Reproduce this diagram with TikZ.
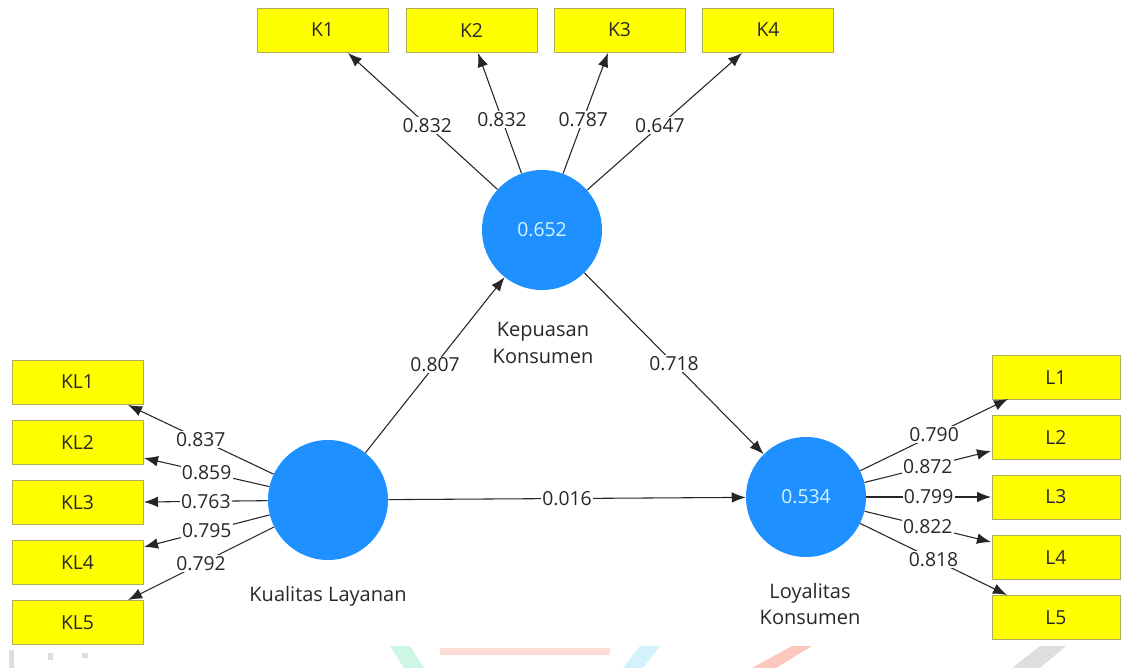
\documentclass[tikz,border=0pt]{standalone}
\usepackage{fontspec}
\setmainfont{Open Sans}
\usetikzlibrary{arrows.meta,calc}
\definecolor{lvblue}{RGB}{30,144,255}
\definecolor{boxyellow}{RGB}{255,255,0}
\definecolor{boxedge}{RGB}{175,175,90}
\definecolor{valtext}{RGB}{215,245,255}
\definecolor{txt}{RGB}{40,40,40}
\definecolor{wmgreen}{RGB}{205,246,228}
\definecolor{wmsalmon}{RGB}{252,222,214}
\definecolor{wmcyan}{RGB}{210,242,252}
\definecolor{wmred}{RGB}{250,200,190}
\definecolor{wmgrey}{RGB}{222,222,222}
\newcommand{\lblfont}{\fontsize{14.5}{17}\selectfont}
\newcommand{\namefont}{\fontsize{15}{20}\selectfont}
\begin{document}
\begin{tikzpicture}[x=0.75pt,y=-0.75pt,
  ind/.style={draw=boxedge,fill=boxyellow,line width=0.75pt,minimum width=98.25pt,minimum height=33pt,inner sep=0pt,font=\lblfont,text=txt},
  indr/.style={ind,minimum width=96pt},
  lv/.style={circle,fill=lvblue,minimum size=90pt,inner sep=0pt,font=\lblfont,text=valtext},
  conn/.style={draw=black!85,line width=0.8pt,-{Latex[length=10.5pt,width=8pt]}},
  lbl/.style={fill=white,inner sep=1pt,font=\lblfont,text=txt},
  lvname/.style={align=center,font=\namefont,text=txt},
  wm/.style={draw=none}]
\useasboundingbox[fill=white] (0,0) rectangle (1122,668);

% faint watermark fragments along the bottom edge
\fill[wmgrey] (9,650) rectangle (14,668);
\fill[wmgrey] (48,653) rectangle (53,660);
\fill[wmgrey] (82,653) rectangle (88,658);
\fill[wmgreen] (390,646) -- (410,646) -- (424,668) -- (404,668) -- cycle;
\fill[wmsalmon] (440,648) rectangle (610,655);
\fill[wmcyan] (640,646) -- (660,646) -- (643,668) -- (623,668) -- cycle;
\fill[wmred] (792,646) -- (812,646) -- (776,668) -- (752,668) -- cycle;
\fill[wmgrey] (1040,646) -- (1066,646) -- (1040,668) -- (1012,668) -- cycle;

% indicator boxes
\node[ind] (K1) at (322.5,30) {K1};
\node[ind] (K2) at (471.5,30) {K2};
\node[ind] (K3) at (619.5,30) {K3};
\node[ind] (K4) at (768,30) {K4};

\node[ind] (KL1) at (77.5,382) {KL1};
\node[ind] (KL2) at (77.5,442.5) {KL2};
\node[ind] (KL3) at (77.5,502.5) {KL3};
\node[ind] (KL4) at (77.5,562.5) {KL4};
\node[ind] (KL5) at (77.5,622.5) {KL5};

\node[indr] (L1) at (1056,377.5) {L1};
\node[indr] (L2) at (1056,437) {L2};
\node[indr] (L3) at (1056,497) {L3};
\node[indr] (L4) at (1056,557.5) {L4};
\node[indr] (L5) at (1056,617.5) {L5};

% latent variables
\node[lv] (KEP) at (542,230) {0.652};
\node[lv] (KUA) at (328,500) {};
\node[lv] (LOY) at (806,497) {0.534};

\node[lvname] (KEPn) at (543,343) {Kepuasan\\Konsumen};
\node[lvname] (KUAn) at (328,596) {Kualitas Layanan};
\node[lvname] (LOYn) at (810,604) {Loyalitas\\Konsumen};

% arrow tip coordinates
\coordinate (tK1) at (348,53);
\coordinate (tK2) at (478,53);
\coordinate (tK3) at (608,53);
\coordinate (tK4) at (742,53);
\coordinate (tKL1) at (128,405);
\coordinate (tKL2) at (144,458);
\coordinate (tKL3) at (144,502);
\coordinate (tKL4) at (144,547);
\coordinate (tKL5) at (128,600);
\coordinate (tL1) at (1008,399);
\coordinate (tL2) at (991,451);
\coordinate (tL3) at (991,497);
\coordinate (tL4) at (991,542);
\coordinate (tL5) at (1007,595);

% outer loadings
\draw[conn] (KEP) -- node[lbl,pos=0.47] {0.832} (tK1);
\draw[conn] (KEP) -- node[lbl,pos=0.45] {0.832} (tK2);
\draw[conn] (KEP) -- node[lbl,pos=0.45] {0.787} (tK3);
\draw[conn] (KEP) -- node[lbl,pos=0.47] {0.647} (tK4);

\draw[conn] (KUA) -- node[lbl] {0.837} (tKL1);
\draw[conn] (KUA) -- node[lbl] {0.859} (tKL2);
\draw[conn] (KUA) -- node[lbl] {0.763} (tKL3);
\draw[conn] (KUA) -- node[lbl] {0.795} (tKL4);
\draw[conn] (KUA) -- node[lbl] {0.792} (tKL5);

\draw[conn] (LOY) -- node[lbl] {0.790} (tL1);
\draw[conn] (LOY) -- node[lbl] {0.872} (tL2);
\draw[conn] (LOY) -- node[lbl] {0.799} (tL3);
\draw[conn] (LOY) -- node[lbl] {0.822} (tL4);
\draw[conn] (LOY) -- node[lbl] {0.818} (tL5);

% path coefficients
\draw[conn] (KUA) -- node[lbl] {0.807} (KEP);
\draw[conn] (KEP) -- node[lbl] {0.718} (LOY);
\draw[conn] (KUA) -- node[lbl] {0.016} (LOY);
\end{tikzpicture}
\end{document}
